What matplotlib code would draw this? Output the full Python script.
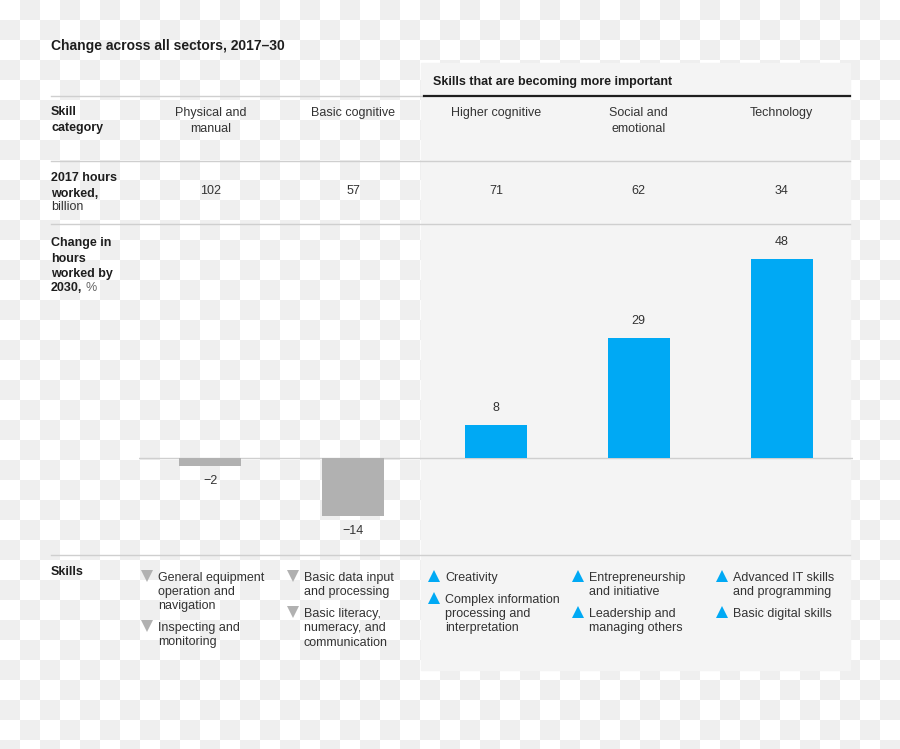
import numpy as np
import matplotlib.pyplot as plt
from matplotlib.colors import ListedColormap
from matplotlib.patches import Rectangle

plt.rcParams['font.family'] = ['Liberation Sans', 'DejaVu Sans']

categories = ['Physical and\nmanual', 'Basic cognitive', 'Higher cognitive',
              'Social and\nemotional', 'Technology']
hours_2017 = [102, 57, 71, 62, 34]
change_pct = [-2, -14, 8, 29, 48]
rising = [False, False, True, True, True]
skills = [
    ['General equipment\noperation and\nnavigation', 'Inspecting and\nmonitoring'],
    ['Basic data input\nand processing', 'Basic literacy,\nnumeracy, and\ncommunication'],
    ['Creativity', 'Complex information\nprocessing and\ninterpretation'],
    ['Entrepreneurship\nand initiative', 'Leadership and\nmanaging others'],
    ['Advanced IT skills\nand programming', 'Basic digital skills'],
]

blue = '#00a9f4'
grey_bar = '#b1b1b1'
dark = '#1e1e1e'
txt = '#333333'
rule = '#cfcfcf'

W, H = 900, 749
fig = plt.figure(figsize=(9, 7.49), dpi=100)

# background layer in pixel coordinates
bg = fig.add_axes([0, 0, 1, 1])
checker = np.indices((38, 45)).sum(axis=0) % 2
bg.imshow(checker, cmap=ListedColormap(['white', '#efefef']),
          extent=(0, 900, 760, 0), interpolation='nearest', aspect='auto')
bg.set_xlim(0, W)
bg.set_ylim(H, 0)
bg.axis('off')

bg.add_patch(Rectangle((421, 63), 429, 607, color='#f4f4f4', zorder=2))

# rules
bg.plot([51, 423], [96, 96], color=rule, lw=1, zorder=3)
bg.plot([424, 850], [96, 96], color=dark, lw=1.6, zorder=3)
for y in [161, 224, 555]:
    bg.plot([51, 850], [y, y], color=rule, lw=1, zorder=3)

bg.text(51, 46, 'Change across all sectors, 2017\u201330', fontsize=10,
        fontweight='bold', color=dark, va='center', zorder=4)
bg.text(433, 82, 'Skills that are becoming more important', fontsize=9,
        fontweight='bold', color=dark, va='center', zorder=4)

# row labels
bg.text(51, 106, 'Skill\ncategory', fontsize=9, fontweight='bold', color=dark,
        va='top', linespacing=1.4, zorder=4)
bg.text(51, 172, '2017 hours\nworked,', fontsize=9, fontweight='bold', color=dark,
        va='top', linespacing=1.4, zorder=4)
bg.text(51, 201, 'billion', fontsize=9, color=txt, va='top', zorder=4)
bg.text(51, 237, 'Change in\nhours\nworked by', fontsize=9, fontweight='bold',
        color=dark, va='top', linespacing=1.4, zorder=4)
bg.text(51, 282, '2030,', fontsize=9, fontweight='bold', color=dark, va='top', zorder=4)
bg.text(86, 282, '%', fontsize=9, color='#666666', va='top', zorder=4)
bg.text(51, 566, 'Skills', fontsize=9, fontweight='bold', color=dark,
        va='top', zorder=4)

col_x = [139 + 142.8 * (i + 0.5) for i in range(5)]
for i, cx in enumerate(col_x):
    bg.text(cx, 107, categories[i], fontsize=9, color=txt, ha='center', va='top',
            linespacing=1.4, zorder=4)
    bg.text(cx, 191, str(hours_2017[i]), fontsize=9, color=txt, ha='center',
            va='center', zorder=4)

# skills lists
mx = [147, 293, 434, 578, 722]
for i, items in enumerate(skills):
    y = 576
    for s in items:
        bg.plot(mx[i], y, marker='^' if rising[i] else 'v', ms=8, mew=0,
                color=blue if rising[i] else grey_bar, zorder=4)
        bg.text(mx[i] + 11, y - 4, s, fontsize=9, color=txt, va='top',
                linespacing=1.25, zorder=4)
        y += 14 * (s.count('\n') + 1) + 8

# bar chart
ax = fig.add_axes([139 / W, (H - 555) / H, 714 / W, 327 / H])
ax.set_xlim(0, 5)
ax.set_ylim(-23.4, 55.4)
ax.patch.set_alpha(0)
ax.axis('off')
xs = np.arange(5) + 0.5
ax.bar(xs, change_pct, width=0.435,
       color=[blue if r else grey_bar for r in rising], zorder=3)
ax.axhline(0, color=rule, lw=1, zorder=2)
for x, v in zip(xs, change_pct):
    lab = str(v) if v >= 0 else '\u2212' + str(abs(v))
    ax.annotate(lab, (x, v), xytext=(0, 17 if v >= 0 else -15),
                textcoords='offset pixels', ha='center', va='center',
                fontsize=9, color=txt)

fig.savefig('out.png', dpi=100)
